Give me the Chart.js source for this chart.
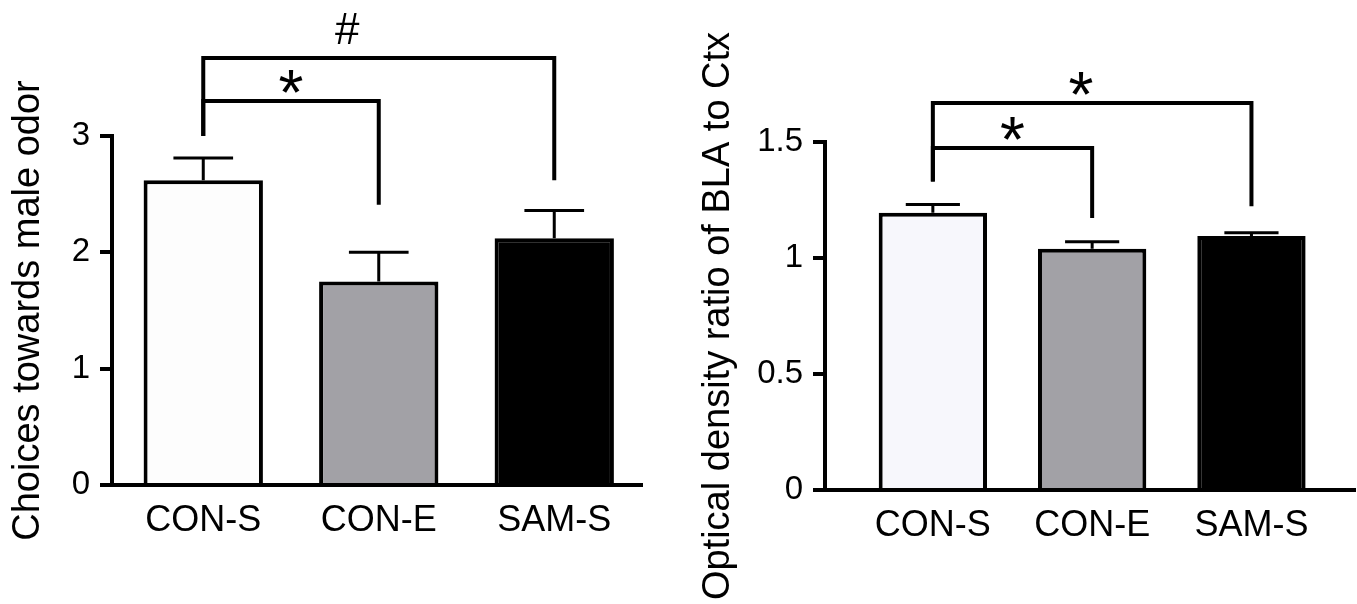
<!DOCTYPE html>
<html>
<head>
<meta charset="utf-8">
<script src="https://cdn.jsdelivr.net/npm/chart.js@4.4.0/dist/chart.umd.min.js"></script>
<style>
  body { margin: 0; background: #fff; width: 1357px; height: 604px; overflow: hidden; position: relative; }
  .panel { position: absolute; top: 0; }
</style>
</head>
<body>
<div class="panel" style="left:0px;"><canvas id="choices-chart" width="680" height="604"></canvas></div>
<div class="panel" style="left:680px;"><canvas id="density-chart" width="677" height="604"></canvas></div>
<script>
let groups = ['CON-S', 'CON-E', 'SAM-S'];

// left panel: choices towards male odor
let choices_mean = [2.62, 1.75, 2.12];
let choices_sem = [0.19, 0.25, 0.24];
let choices_ticks = [0, 1, 2, 3];

// right panel: optical density ratio
let density_mean = [1.195, 1.04, 1.095];
let density_sem = [0.036, 0.03, 0.014];
let density_ticks = [0, 0.5, 1, 1.5];

let fills_left = ['#fdfdfd', '#a2a1a6', '#000000'];
let fills_right = ['#f7f7fc', '#a2a1a6', '#000000'];

// significance brackets (y in data units)
let choices_sig = [
    { from: 0, to: 2, y: 3.67, from_end: 3.0, to_end: 2.62, text: '#', text_x: 0.82 },
    { from: 0, to: 1, y: 3.3, from_end: 3.0, to_end: 2.41, text: '*', text_x: 0.5 }
];
let density_sig = [
    { from: 0, to: 2, y: 1.668, from_end: 1.33, to_end: 1.223, text: '*', text_x: 0.93 },
    { from: 0, to: 1, y: 1.474, from_end: 1.33, to_end: 1.172, text: '*', text_x: 0.5 }
];

Chart.defaults.font.family = '"Liberation Sans", Arial, Helvetica, sans-serif';
Chart.defaults.color = '#000';

// draws the SEM whiskers (up only) and the comparison brackets
let err_sig_plugin = {
    id: 'errSig',
    afterDatasetsDraw(chart, args, opts) {
        let ctx = chart.ctx;
        let xs = chart.scales.x;
        let ys = chart.scales.y;
        let meta = chart.getDatasetMeta(0);
        ctx.save();
        ctx.strokeStyle = '#000';
        ctx.fillStyle = '#000';
        ctx.lineCap = 'butt';
        ctx.lineJoin = 'miter';
        ctx.lineWidth = 3;
        for (let i = 0; i < opts.mean.length; i++) {
            let x = xs.getPixelForValue(i);
            let half = meta.data[i].width / 4;
            let y0 = ys.getPixelForValue(opts.mean[i]);
            let y1 = ys.getPixelForValue(opts.mean[i] + opts.sem[i]);
            ctx.beginPath();
            ctx.moveTo(x, y0);
            ctx.lineTo(x, y1);
            ctx.moveTo(x - half, y1);
            ctx.lineTo(x + half, y1);
            ctx.stroke();
        }
        ctx.lineWidth = 4;
        ctx.textAlign = 'center';
        ctx.textBaseline = 'alphabetic';
        opts.sig.forEach(s => {
            let xa = xs.getPixelForValue(s.from);
            let xb = xs.getPixelForValue(s.to);
            let yl = ys.getPixelForValue(s.y);
            ctx.beginPath();
            ctx.moveTo(xa, ys.getPixelForValue(s.from_end));
            ctx.lineTo(xa, yl);
            ctx.lineTo(xb, yl);
            ctx.lineTo(xb, ys.getPixelForValue(s.to_end));
            ctx.stroke();
            let gap = 8;
            if (s.text == '#') {
                ctx.font = '44px "Liberation Sans", Arial, sans-serif';
                gap = 14;
            } else {
                ctx.font = '64px "Liberation Sans", Arial, sans-serif';
            }
            let m = ctx.measureText(s.text);
            ctx.fillText(s.text, xs.getPixelForValue(s.text_x), yl - gap - m.actualBoundingBoxDescent);
        });
        ctx.restore();
    }
};

function make_chart(canvas_id, mean, sem, fills, ticks, sig, title, geo) {
    let ctx = document.getElementById(canvas_id);
    return new Chart(ctx, {
        type: 'bar',
        data: {
            datasets: [{
                data: groups.map((g, i) => ({ x: i, y: mean[i] })),
                backgroundColor: fills,
                borderColor: '#000',
                borderWidth: 4,
                borderSkipped: 'start',
                barPercentage: 0.68,
                categoryPercentage: 1.0
            }]
        },
        options: {
            responsive: false,
            animation: false,
            devicePixelRatio: 1,
            layout: { padding: { left: geo.pad_left, right: geo.pad_right, top: geo.pad_top, bottom: 0 } },
            plugins: {
                legend: { display: false },
                tooltip: { enabled: false },
                errSig: { mean: mean, sem: sem, sig: sig }
            },
            scales: {
                x: {
                    type: 'linear',
                    offset: false,
                    min: geo.x_min,
                    max: geo.x_max,
                    afterBuildTicks: s => { s.ticks = groups.map((g, i) => ({ value: i })); },
                    afterFit: s => { s.height = geo.x_height; },
                    grid: { display: false, drawTicks: false, offset: false },
                    border: { display: true, color: '#000', width: 4 },
                    ticks: {
                        color: '#000', padding: 14, maxRotation: 0, autoSkip: false,
                        font: { size: 36 },
                        callback: v => groups[v]
                    }
                },
                y: {
                    min: 0,
                    max: ticks[ticks.length - 1],
                    afterBuildTicks: s => { s.ticks = ticks.map(v => ({ value: v })); },
                    afterFit: s => { s.width = geo.y_width; },
                    grid: { drawOnChartArea: false, drawTicks: true, tickLength: 12, lineWidth: 4, color: '#000' },
                    border: { display: true, color: '#000', width: 4 },
                    ticks: { color: '#000', padding: 10, font: { size: 33 }, callback: v => String(v) },
                    title: { display: true, text: title, color: '#000', font: { size: 38 }, padding: { top: 4, bottom: 4 } }
                }
            }
        },
        plugins: [err_sig_plugin]
    });
}

make_chart('choices-chart', choices_mean, choices_sem, fills_left, choices_ticks, choices_sig,
    'Choices towards male odor',
    { pad_left: 2, pad_right: 38, pad_top: 136, y_width: 110, x_height: 119, x_min: -0.52, x_max: 2.5 });

make_chart('density-chart', density_mean, density_sem, fills_right, density_ticks, density_sig,
    'Optical density ratio of BLA to Ctx',
    { pad_left: 12, pad_right: 2, pad_top: 142, y_width: 133, x_height: 114, x_min: -0.677, x_max: 2.65 });
</script>
</body>
</html>
